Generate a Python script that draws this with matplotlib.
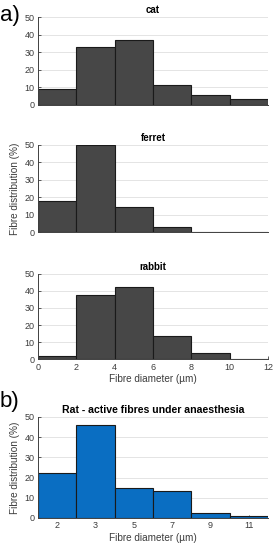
import matplotlib
matplotlib.use("Agg")
from matplotlib import pyplot as plt
import numpy as np

plt.rcParams["font.family"] = ["Liberation Sans", "DejaVu Sans"]

# bin edges shared by all panels (um)
edges = [0, 2, 4, 6, 8, 10]
cat = [9.2, 32.8, 37.1, 11.4, 5.5, 3.4]
ferret = [18.1, 50.0, 14.6, 3.0, 0, 0]
rabbit = [1.8, 37.7, 42.2, 13.7, 3.7, 0]
rat = [22.3, 45.9, 14.7, 13.4, 2.3, 1.0]
rat_ticks = [1, 3, 5, 7, 9, 11]
rat_labels = ["2", "3", "5", "7", "9", "11"]

grey = "#474747"
blue = "#0a6ec2"
txt = "#3c3c3c"

fig = plt.figure(figsize=(2.75, 5.49), dpi=100)

def panel(rect, vals, color, title, title_size=7):
    ax = fig.add_axes(rect)
    ax.bar(edges, vals, width=2, align="edge", color=color,
           edgecolor="#1a1a1a", linewidth=0.8, zorder=2)
    ax.set_xlim(0, 12)
    ax.set_ylim(0, 50)
    ax.set_yticks([0, 10, 20, 30, 40, 50])
    ax.yaxis.grid(True, color="#e4e4e4", linewidth=0.7, zorder=0)
    ax.set_axisbelow(True)
    for s in ["top", "right"]:
        ax.spines[s].set_visible(False)
    for s in ["left", "bottom"]:
        ax.spines[s].set_color("#404040")
        ax.spines[s].set_linewidth(0.7)
    ax.tick_params(direction="in", length=2, width=0.6, labelsize=6.5,
                   labelcolor=txt, color="#404040", pad=2.5)
    ax.set_title(title, fontsize=title_size, fontweight="bold", pad=3)
    return ax

ax1 = panel([0.138, 0.809, 0.836, 0.160], cat, grey, "cat")
ax2 = panel([0.138, 0.577, 0.836, 0.159], ferret, grey, "ferret")
ax3 = panel([0.138, 0.346, 0.836, 0.155], rabbit, grey, "rabbit")
ax4 = panel([0.138, 0.0565, 0.836, 0.184], rat, blue,
            "Rat - active fibres under anaesthesia", title_size=7.6)

for ax in [ax1, ax2]:
    ax.set_xticks([])
ax3.set_xticks([0, 2, 4, 6, 8, 10, 12])
ax3.set_xlabel("Fibre diameter (\u00b5m)", fontsize=7.2, color=txt, labelpad=2)
ax4.set_xticks(rat_ticks)
ax4.set_xticklabels(rat_labels)
ax4.set_xlabel("Fibre diameter (\u00b5m)", fontsize=7.2, color=txt, labelpad=2)

ax2.set_ylabel("Fibre distribution (%)", fontsize=7.2, color=txt, labelpad=3)
ax4.set_ylabel("Fibre distribution (%)", fontsize=7.2, color=txt, labelpad=3)

fig.text(0.0, 0.99, "a)", fontsize=16, va="top", ha="left")
fig.text(0.0, 0.288, "b)", fontsize=16, va="top", ha="left")

fig.savefig("out.png", dpi=100)
